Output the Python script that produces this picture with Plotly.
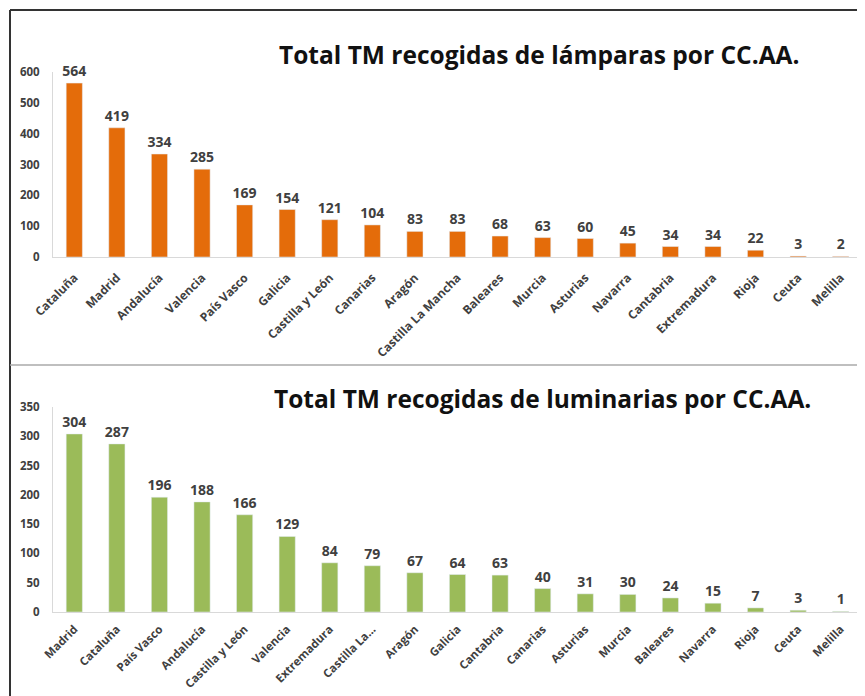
import plotly.graph_objects as go

# ---- data ----
lamp_regions = ["Cataluña", "Madrid", "Andalucía", "Valencia", "País Vasco", "Galicia",
                "Castilla y León", "Canarias", "Aragón", "Castilla La Mancha", "Baleares",
                "Murcia", "Asturias", "Navarra", "Cantabria", "Extremadura", "Rioja",
                "Ceuta", "Melilla"]
lamp_values = [564, 419, 334, 285, 169, 154, 121, 104, 83, 83, 68, 63, 60, 45, 34, 34, 22, 3, 2]

lum_regions = ["Madrid", "Cataluña", "País Vasco", "Andalucía", "Castilla y León", "Valencia",
               "Extremadura", "Castilla La...", "Aragón", "Galicia", "Cantabria", "Canarias",
               "Asturias", "Murcia", "Baleares", "Navarra", "Rioja", "Ceuta", "Melilla"]
lum_values = [304, 287, 196, 188, 166, 129, 84, 79, 67, 64, 63, 40, 31, 30, 24, 15, 7, 3, 1]

lamp_ticks = [0, 100, 200, 300, 400, 500, 600]
lum_ticks = [0, 50, 100, 150, 200, 250, 300, 350]

title_top = "Total TM recogidas de lámparas por CC.AA."
title_bot = "Total TM recogidas de luminarias por CC.AA."

# page body has an 8px margin: the figure is sized to fill the rest of the window
OFF = 8
WIN_W, WIN_H = 865, 696
W, H = WIN_W - OFF, WIN_H - OFF
FONT = "Open Sans"
TXT = "#404040"

def py(p):
    return 1 - (p - OFF) / H

def px(p):
    return (p - OFF) / W

fig = go.Figure()
fig.add_trace(go.Bar(x=lamp_regions, y=lamp_values, marker_color="#E46C0A",
                     text=lamp_values, textposition="outside", cliponaxis=False,
                     constraintext="none",
                     textfont=dict(family=FONT, size=14, color=TXT, weight="bold"),
                     xaxis="x", yaxis="y"))
fig.add_trace(go.Bar(x=lum_regions, y=lum_values, marker_color="#9BBB59",
                     text=lum_values, textposition="outside", cliponaxis=False,
                     constraintext="none",
                     textfont=dict(family=FONT, size=14, color=TXT, weight="bold"),
                     xaxis="x2", yaxis="y2"))

xcommon = dict(tickangle=-45, showgrid=False, showline=True, linecolor="#d9d9d9",
               linewidth=1, ticks="", automargin=False,
               domain=[px(53), px(862)])
ycommon = dict(showgrid=False, showline=True, linecolor="#d9d9d9", linewidth=1, ticks="",
               zeroline=False, automargin=False,
               tickfont=dict(family=FONT, size=11.5, color=TXT, weight="bold"),
               ticklabelstandoff=10)

fig.update_layout(
    width=W, height=H, margin=dict(l=0, r=0, t=0, b=0, pad=0, autoexpand=False),
    paper_bgcolor="white", plot_bgcolor="white", showlegend=False,
    bargap=0.62,
    xaxis=dict(**xcommon, anchor="y", ticklabelstandoff=8,
               tickfont=dict(family=FONT, size=12, color=TXT, weight="bold")),
    yaxis=dict(**ycommon, range=[0, 600], tickvals=lamp_ticks, domain=[py(257), py(72)], anchor="x"),
    xaxis2=dict(**xcommon, anchor="y2", ticklabelstandoff=5,
                tickfont=dict(family=FONT, size=11.5, color=TXT, weight="bold")),
    yaxis2=dict(**ycommon, range=[0, 350], tickvals=lum_ticks, domain=[py(612), py(407)], anchor="x2"),
    annotations=[
        dict(text="<b>" + title_top + "</b>", x=px(539), y=py(54), xref="paper", yref="paper",
             showarrow=False, font=dict(family=FONT, size=24.5, color="#111111"),
             xanchor="center", yanchor="middle"),
        dict(text="<b>" + title_bot + "</b>", x=px(542), y=py(398), xref="paper", yref="paper",
             showarrow=False, font=dict(family=FONT, size=24.5, color="#111111"),
             xanchor="center", yanchor="middle"),
    ],
    shapes=[
        dict(type="line", xref="paper", yref="paper", x0=px(10), x1=1, y0=py(10), y1=py(10),
             line=dict(color="#333333", width=2)),
        dict(type="line", xref="paper", yref="paper", x0=px(10), x1=px(10), y0=py(10), y1=0,
             line=dict(color="#333333", width=2)),
        dict(type="line", xref="paper", yref="paper", x0=px(10), x1=1, y0=py(365), y1=py(365),
             line=dict(color="#aaaaaa", width=1.5)),
    ],
)

fig.write_html("out.html")
